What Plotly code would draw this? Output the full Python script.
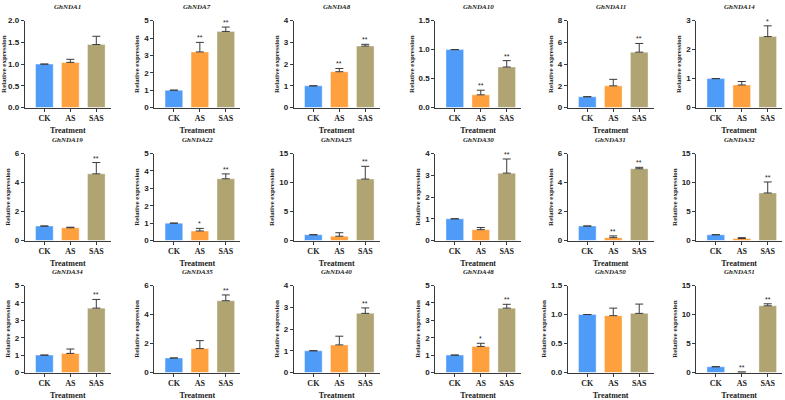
import plotly.graph_objects as go

genes = ["GhNDA1", "GhNDA7", "GhNDA8", "GhNDA10", "GhNDA11", "GhNDA14",
         "GhNDA19", "GhNDA22", "GhNDA25", "GhNDA30", "GhNDA31", "GhNDA32",
         "GhNDA34", "GhNDA35", "GhNDA40", "GhNDA48", "GhNDA50", "GhNDA51"]
treatments = ["CK", "AS", "SAS"]

ck_vals = [1.0] * 18
as_vals = [1.04, 3.2, 1.65, 0.22, 2.0, 0.78,
           0.88, 0.55, 0.75, 0.5, 0.2, 0.35,
           1.1, 1.65, 1.27, 1.5, 0.98, 0.05]
sas_vals = [1.45, 4.38, 2.83, 0.70, 5.1, 2.45,
            4.6, 3.55, 10.6, 3.1, 4.95, 8.2,
            3.7, 4.95, 2.72, 3.7, 1.02, 11.5]
as_err = [0.07, 0.55, 0.15, 0.08, 0.6, 0.12,
          0.04, 0.15, 0.6, 0.1, 0.12, 0.15,
          0.25, 0.55, 0.4, 0.18, 0.13, 0.05]
sas_err = [0.19, 0.25, 0.08, 0.11, 0.8, 0.37,
           0.78, 0.28, 2.2, 0.65, 0.1, 1.9,
           0.5, 0.4, 0.25, 0.22, 0.16, 0.35]
as_sig = ["", "**", "**", "**", "", "",
          "", "*", "", "", "**", "",
          "", "", "", "*", "", "**"]
sas_sig = ["", "**", "**", "**", "**", "*",
           "**", "**", "**", "**", "**", "**",
           "**", "**", "**", "**", "", "**"]
y_max = [2.0, 5, 4, 1.5, 8, 3,
         6, 5, 15, 4, 6, 15,
         5, 6, 4, 5, 1.5, 15]
y_dtick = [0.5, 1, 1, 0.5, 2, 1,
           2, 1, 5, 1, 2, 5,
           1, 2, 1, 1, 0.5, 5]

colors = ["#4f9cf8", "#ffa03f", "#b0a473"]
W, H = 785, 400
col_left = [22, 152, 292, 434, 567, 696]
col_w = 86
row_top = [17, 153, 288]
row_h = 89
AXC = "#3a3a3a"

fig = go.Figure()
annotations = []
layout = {}
for i, g in enumerate(genes):
    r, c = divmod(i, 6)
    n = "" if i == 0 else str(i + 1)
    x0 = col_left[c] / W
    x1 = (col_left[c] + col_w) / W
    y1 = 1 - row_top[r] / H
    y0 = 1 - (row_top[r] + row_h) / H
    vals = [ck_vals[i], as_vals[i], sas_vals[i]]
    errs = [0, as_err[i], sas_err[i]]
    fig.add_trace(go.Bar(
        x=treatments, y=vals, width=0.68,
        marker=dict(color=colors, line=dict(color="rgba(255,255,255,0.5)", width=0.8)),
        error_y=dict(type="data", array=errs, arrayminus=[0, 0, 0], symmetric=False,
                     color=AXC, thickness=1, width=4),
        xaxis="x" + n, yaxis="y" + n, showlegend=False))
    fmt = ".1f" if y_dtick[i] < 1 else "d"
    layout["xaxis" + n] = dict(
        domain=[x0, x1], anchor="y" + n, type="category",
        range=[-0.75, 2.55], showline=True, linecolor=AXC, linewidth=1.3,
        ticks="outside", ticklen=3, tickcolor=AXC, tickwidth=1,
        tickfont=dict(family="Liberation Serif", size=8, color="#222", weight="bold"),
        title=dict(text="Treatment", standoff=5,
                   font=dict(family="Liberation Serif", size=8, color="#222", weight="bold")),
        showgrid=False, fixedrange=True)
    layout["yaxis" + n] = dict(
        domain=[y0, y1], anchor="x" + n, range=[0, y_max[i]], dtick=y_dtick[i],
        tick0=0, tickformat=fmt, showline=True, linecolor=AXC, linewidth=1.3,
        ticks="outside", ticklen=3, tickcolor=AXC, tickwidth=1,
        tickfont=dict(family="Liberation Sans", size=8, color="#222", weight="bold"),
        title=dict(text="Relative expression", standoff=3,
                   font=dict(family="Liberation Serif", size=7, color="#222", weight="bold")),
        showgrid=False, zeroline=False, fixedrange=True)
    annotations.append(dict(
        text="<i><b>" + g + "</b></i>", x=(x0 + x1) / 2, y=y1 + 8 / H,
        xref="paper", yref="paper", showarrow=False, xanchor="center", yanchor="bottom",
        font=dict(family="Liberation Serif", size=7, color="#222")))
    for k, sig in ((1, as_sig[i]), (2, sas_sig[i])):
        if sig:
            annotations.append(dict(
                text=sig, x=treatments[k], y=vals[k] + errs[k],
                xref="x" + n, yref="y" + n, showarrow=False,
                xanchor="center", yanchor="bottom", yshift=-1,
                font=dict(family="Liberation Sans", size=7, color="#222")))

fig.update_layout(
    width=W, height=H, margin=dict(l=0, r=0, t=0, b=0),
    paper_bgcolor="white", plot_bgcolor="white",
    annotations=annotations, **layout)
fig.write_html("out.html", config={"displayModeBar": False},
               post_script="document.body.style.margin='0';document.body.style.padding='0';document.body.style.overflow='hidden';")
